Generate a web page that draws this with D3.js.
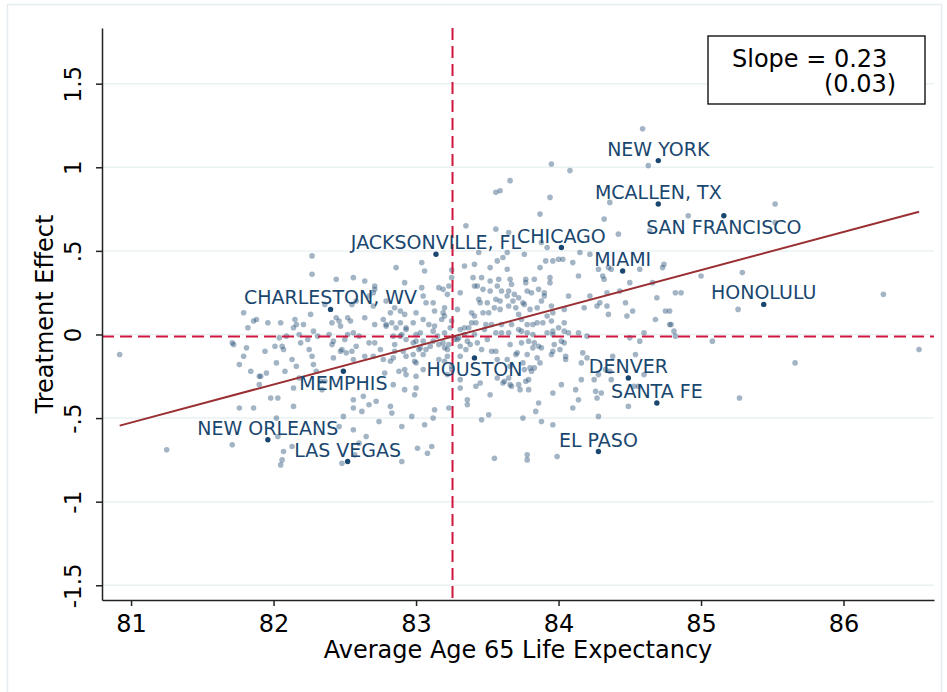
<!DOCTYPE html>
<html>
<head>
<meta charset="utf-8">
<script src="https://cdn.jsdelivr.net/npm/d3@7"></script>
<style>
  body { margin: 0; background: #fff; }
  svg { display: block; }
  text { font-family: "DejaVu Sans", sans-serif; }
</style>
</head>
<body>
<div id="chart"></div>
<script>
// commuting zones: [average age 65 life expectancy, treatment effect]
const zones = [
  [83.66,0.92],[83.56,0.85],[83.59,0.86],[83.35,0.65],[83.56,0.63],[83.65,0.61],[82.27,0.47],[83.04,0.43],
  [83.06,0.38],[82.86,0.40],[83.25,0.385],[83.25,0.34],[83.34,0.41],[83.41,0.42],[83.44,0.49],[83.52,0.40],
  [83.64,0.49],[83.61,0.46],[83.57,0.44],[82.27,0.36],[82.44,0.33],[82.56,0.34],[82.64,0.32],[82.92,0.31],
  [82.71,0.29],[82.71,0.27],[83.04,0.28],[83.16,0.28],[83.19,0.27],[83.23,0.29],[83.22,0.24],[83.31,0.25],
  [83.40,0.34],[83.46,0.34],[83.41,0.29],[83.43,0.29],[83.47,0.27],[83.52,0.26],[83.57,0.29],[83.58,0.33],
  [83.66,0.33],[83.64,0.39],[83.56,0.21],[83.64,0.23],[83.69,0.24],[83.44,0.21],[83.45,0.19],[83.39,0.13],
  [83.41,0.11],[83.47,0.13],[83.51,0.13],[83.59,0.15],[83.59,0.20],[83.29,0.15],[83.20,0.16],[83.19,0.13],
  [83.20,0.11],[83.13,0.14],[83.07,0.19],[83.05,0.23],[83.00,0.13],[82.85,0.16],[82.82,0.13],[82.89,0.14],
  [82.79,0.20],[82.70,0.17],[82.67,0.23],[82.70,0.25],[82.58,0.20],[82.55,0.18],[82.36,0.18],[82.44,0.10],
  [82.41,0.07],[82.46,0.08],[82.47,0.05],[82.52,0.10],[82.54,0.08],[82.64,0.10],[82.71,0.06],[82.77,0.09],
  [82.79,0.06],[82.89,0.07],[82.93,0.04],[82.98,0.07],[83.05,0.09],[83.09,0.06],[83.13,0.05],[82.26,0.12],
  [82.15,0.09],[82.16,0.06],[82.21,0.06],[82.14,0.04],[82.05,0.07],[81.96,0.07],[81.88,0.09],[81.86,0.08],
  [81.82,0.04],[81.79,0.13],[83.25,0.08],[83.24,0.04],[83.39,0.07],[83.37,0.04],[83.42,0.07],[83.49,0.06],
  [84.59,1.23],[84.63,1.01],[83.95,1.02],[84.08,0.98],[83.94,0.82],[84.36,0.79],[85.52,0.78],[84.91,0.71],
  [85.52,0.67],[83.87,0.72],[84.32,0.69],[84.42,0.60],[84.64,0.62],[83.92,0.52],[83.88,0.55],[83.76,0.48],
  [84.15,0.49],[84.22,0.48],[84.00,0.45],[84.03,0.45],[83.96,0.44],[83.91,0.44],[84.10,0.43],[83.87,0.40],
  [84.28,0.39],[84.35,0.40],[84.37,0.39],[84.57,0.39],[84.73,0.40],[84.74,0.42],[84.14,0.35],[83.94,0.34],
  [84.31,0.35],[84.32,0.33],[84.50,0.31],[84.66,0.31],[85.00,0.35],[85.29,0.37],[83.77,0.33],[83.83,0.33],
  [83.94,0.31],[83.77,0.31],[83.67,0.30],[83.60,0.26],[83.78,0.26],[83.81,0.25],[83.90,0.25],[83.90,0.23],
  [83.72,0.22],[84.07,0.23],[84.22,0.23],[84.34,0.25],[84.43,0.26],[84.82,0.25],[84.86,0.25],[84.69,0.22],
  [86.28,0.24],[85.26,0.15],[83.75,0.19],[83.76,0.18],[83.85,0.16],[83.88,0.20],[83.95,0.17],[83.65,0.17],
  [83.70,0.16],[84.18,0.16],[84.27,0.17],[84.29,0.19],[84.34,0.17],[84.47,0.19],[84.52,0.14],[84.35,0.12],
  [84.48,0.11],[83.92,0.11],[83.72,0.12],[84.75,0.14],[84.78,0.14],[84.68,0.09],[83.82,0.06],[83.85,0.07],
  [83.89,0.07],[83.95,0.08],[84.04,0.07],[84.00,0.04],[84.78,0.06],[84.79,0.06],
  [84.81,0.02],[84.82,-0.01],[84.60,0.01],[84.57,-0.04],[84.50,-0.02],[85.08,-0.04],[86.53,-0.09],[85.66,-0.17],
  [85.27,-0.38],[84.14,0.01],[84.20,-0.01],[83.72,0.03],[83.74,0.02],[83.78,0.01],[83.60,0.01],[83.65,0.01],
  [83.96,0.02],[84.04,0.02],[84.07,0.01],[83.96,0.00],[83.66,-0.06],[83.74,-0.05],[83.79,-0.04],[83.83,-0.05],
  [83.82,-0.08],[83.88,-0.08],[83.97,-0.06],[84.02,-0.04],[84.04,-0.05],[84.01,-0.09],[83.96,-0.10],[83.95,-0.12],
  [83.78,-0.12],[84.17,-0.11],[84.20,-0.14],[84.16,-0.17],[84.05,-0.15],[84.38,-0.13],[84.54,-0.12],[83.87,-0.17],
  [83.75,-0.17],[83.80,-0.20],[83.83,-0.20],[83.81,-0.22],[83.76,-0.21],[83.64,-0.15],[84.33,-0.21],[84.36,-0.22],
  [84.28,-0.24],[84.53,-0.31],[84.56,-0.31],[84.60,-0.24],[84.16,-0.27],[84.25,-0.27],[84.37,-0.27],[83.65,-0.26],
  [83.61,-0.29],[83.72,-0.30],[83.77,-0.28],[83.79,-0.33],[84.02,-0.30],[83.96,-0.35],[84.12,-0.33],[84.14,-0.39],
  [84.26,-0.34],[84.30,-0.35],[84.27,-0.38],[83.86,-0.41],[83.84,-0.46],[84.10,-0.44],[84.49,-0.43],[83.75,-0.50],
  [83.88,-0.52],[83.96,-0.54],[84.28,-0.49],[83.78,-0.72],[83.78,-0.75],[83.99,-0.73],
  [80.92,-0.12],[81.25,-0.69],[81.71,-0.66],[82.03,-0.61],[82.02,-0.50],[82.07,-0.70],[82.06,-0.75],[82.05,-0.78],
  [82.13,-0.67],[81.76,-0.44],[81.86,-0.44],[81.98,-0.38],[82.03,-0.38],[82.14,-0.43],[82.46,-0.55],[82.49,-0.49],
  [82.56,-0.57],[82.65,-0.61],[82.60,-0.65],[82.48,-0.77],[82.57,-0.72],[82.90,-0.76],[83.01,-0.68],[83.08,-0.71],
  [83.11,-0.67],[83.55,-0.74],[83.46,-0.51],[83.51,-0.48],[83.06,-0.54],[82.97,-0.49],[82.90,-0.55],[83.12,-0.50],
  [83.23,-0.44],[83.13,-0.45],[82.74,-0.52],[82.82,-0.43],[82.83,-0.47],[82.62,-0.46],[82.67,-0.42],[82.72,-0.40],
  [82.63,-0.37],[82.56,-0.39],[82.56,-0.44],[83.36,-0.39],[83.36,-0.42],[81.71,-0.05],[81.72,-0.06],[81.81,-0.08],
  [81.79,-0.13],[81.76,-0.18],[81.84,-0.22],[81.90,-0.25],[81.91,-0.25],[81.95,-0.23],[81.90,-0.30],[81.94,-0.10],
  [82.01,-0.07],[82.06,-0.07],[82.07,-0.09],[82.02,-0.17],[82.08,-0.22],[82.13,-0.15],[82.16,-0.19],[82.18,-0.26],
  [82.14,-0.32],[82.25,-0.09],[82.27,-0.13],[82.28,-0.18],[82.30,-0.22],[82.33,-0.28],[82.34,-0.33],[82.36,-0.28],
  [82.41,-0.06],[82.42,-0.14],[82.47,-0.10],[82.48,-0.09],[82.51,-0.11],[82.56,-0.15],[82.55,-0.10],[82.58,-0.07],
  [82.64,-0.13],[82.70,-0.13],[82.71,-0.05],[82.67,-0.05],[82.77,-0.15],[82.78,-0.23],[82.84,-0.14],[82.85,-0.10],
  [82.84,-0.30],[82.88,-0.22],[82.92,-0.21],[82.92,-0.33],[82.93,-0.13],[83.00,-0.25],[83.00,-0.32],[83.05,-0.21],
  [82.99,-0.16],[83.05,-0.12],[83.03,-0.08],[83.07,-0.09],[83.00,-0.04],[82.93,-0.03],[82.90,0.00],[82.84,-0.01],
  [82.79,0.05],[82.28,0.02],[82.24,-0.03],[82.19,-0.05],[82.09,-0.01],[82.04,-0.02],[82.18,0.00],[82.31,-0.01],
  [82.39,0.00],[82.42,-0.04],[82.50,-0.03],[82.52,0.00],[82.56,0.01],[82.60,-0.01],[83.12,-0.04],[83.16,-0.06],
  [83.20,-0.08],[83.22,-0.09],[83.23,-0.06],[83.27,-0.03],[83.29,-0.03],[83.31,-0.13],[83.38,-0.06],[83.43,-0.05],
  [83.53,-0.10],[83.56,-0.10],[83.57,-0.15],[83.66,-0.19],[83.70,-0.12],[83.66,-0.30],[83.62,-0.28],[83.57,-0.26],
  [83.45,-0.29],[83.42,-0.31],[83.31,-0.27],[83.25,-0.21],[83.25,-0.19],[83.22,-0.24],[83.20,-0.16],[83.22,-0.13],
  [83.52,0.32],[83.65,0.26],[83.86,0.27],[83.12,0.19],[82.92,0.12],[83.18,0.09],[83.50,0.19],[83.55,0.16],
  [83.68,0.20],[83.80,0.15],[83.96,0.13],[84.04,0.15],[83.78,0.06],[83.74,0.09],[83.67,0.06],[83.60,0.06],
  [83.53,0.06],[83.34,0.04],[83.48,0.03],[83.56,0.01],[83.82,0.00],[83.92,0.01],[82.83,0.07],[82.86,0.04],
  [82.93,0.03],[82.89,-0.01],[83.00,0.00],[83.05,-0.04],[83.03,0.01],[83.12,0.02],[83.15,-0.01],[83.20,0.01],
  [83.31,0.03],[83.30,-0.02],[83.34,0.00],[83.36,-0.04],[83.41,0.00],[83.50,-0.03],[82.85,-0.06],[82.98,-0.05],
  [83.02,-0.09],[83.10,-0.07],[83.19,-0.05],[83.31,-0.07],[83.35,-0.09],[83.46,-0.09],[83.71,-0.11],[83.86,-0.07],
  [84.05,-0.13],[83.85,-0.14],[82.75,-0.09],[82.91,-0.10],[82.98,-0.12],[83.16,-0.15],[82.82,-0.16],[83.00,-0.17],
  [82.93,-0.24],[82.99,-0.36],[83.31,-0.32],[83.52,-0.36],[83.67,-0.31],[83.73,-0.33],[83.79,-0.27]
];

// labelled cities
const cityNames = ["NEW YORK", "MCALLEN, TX", "SAN FRANCISCO", "JACKSONVILLE, FL", "CHICAGO", "MIAMI",
  "CHARLESTON, WV", "HONOLULU", "HOUSTON", "MEMPHIS", "DENVER", "SANTA FE", "NEW ORLEANS", "LAS VEGAS", "EL PASO"];
const cityLifeExp = [84.70, 84.70, 85.16, 83.14, 84.02, 84.45, 82.40, 85.44, 83.41, 82.49, 84.49, 84.69, 81.96, 82.52, 84.28];
const cityEffect = [1.04, 0.78, 0.71, 0.48, 0.52, 0.38, 0.15, 0.18, -0.14, -0.22, -0.26, -0.41, -0.63, -0.76, -0.70];
const cityLabelSide = ["above", "above", "below", "above", "above", "above", "above", "above", "below", "below",
  "above", "above", "above", "above", "above"];

// means (dashed reference lines) and linear fit
const meanLifeExp = 83.256;
const meanEffect = -0.012;
const fitX = [80.92, 86.53];
const fitY = [-0.545, 0.734];
const slopeText = ["Slope = 0.23", "(0.03)"];

const xTicks = [81, 82, 83, 84, 85, 86];
const yTicks = [-1.5, -1, -0.5, 0, 0.5, 1, 1.5];
const yTickLabels = ["-1.5", "-1", "-.5", "0", ".5", "1", "1.5"];

const width = 947, height = 692;
const plot = { left: 102, right: 934, top: 28, bottom: 600 };

const svg = d3.select("#chart").append("svg")
  .attr("width", width)
  .attr("height", height);

svg.append("rect")
  .attr("x", 7.5).attr("y", 4.5)
  .attr("width", 934).attr("height", 700)
  .attr("fill", "none")
  .attr("stroke", "#e4ecf0")
  .attr("stroke-width", 1.5);

const x = d3.scaleLinear().domain([80.796, 86.635]).range([plot.left, plot.right]);
const y = d3.scaleLinear().domain([-1.588, 1.833]).range([plot.bottom, plot.top]);

// gridlines
svg.append("g")
  .selectAll("line")
  .data(yTicks)
  .join("line")
  .attr("x1", plot.left).attr("x2", plot.right)
  .attr("y1", d => y(d)).attr("y2", d => y(d))
  .attr("stroke", "#eaf1f3")
  .attr("stroke-width", 1.5);

// background points
svg.append("g")
  .selectAll("circle")
  .data(zones)
  .join("circle")
  .attr("cx", d => x(d[0]))
  .attr("cy", d => y(d[1]))
  .attr("r", 2.8)
  .attr("fill", "#1a476f")
  .attr("fill-opacity", 0.4);

// mean lines
svg.append("line")
  .attr("x1", x(meanLifeExp)).attr("x2", x(meanLifeExp))
  .attr("y1", plot.top).attr("y2", plot.bottom)
  .attr("stroke", "#d0163f").attr("stroke-width", 2)
  .attr("stroke-dasharray", "12,6");

svg.append("line")
  .attr("x1", plot.left).attr("x2", plot.right)
  .attr("y1", y(meanEffect)).attr("y2", y(meanEffect))
  .attr("stroke", "#d0163f").attr("stroke-width", 2)
  .attr("stroke-dasharray", "12,6");

// fitted line
svg.append("path")
  .datum(d3.zip(fitX, fitY))
  .attr("d", d3.line().x(d => x(d[0])).y(d => y(d[1])))
  .attr("fill", "none")
  .attr("stroke", "#9a2f33")
  .attr("stroke-width", 2);

// labelled cities
const cities = cityNames.map((name, i) => ({
  name, lx: cityLifeExp[i], ef: cityEffect[i], side: cityLabelSide[i]
}));

svg.append("g")
  .selectAll("circle")
  .data(cities)
  .join("circle")
  .attr("cx", d => x(d.lx))
  .attr("cy", d => y(d.ef))
  .attr("r", 2.7)
  .attr("fill", "#1a476f");

svg.append("g")
  .selectAll("text")
  .data(cities)
  .join("text")
  .attr("x", d => x(d.lx))
  .attr("y", d => y(d.ef) + (d.side === "above" ? -5 : 18.5))
  .attr("text-anchor", "middle")
  .attr("font-size", 19)
  .attr("fill", "#1a476f")
  .text(d => d.name);

// axes
const xAxis = svg.append("g")
  .attr("transform", `translate(0,${plot.bottom})`)
  .call(d3.axisBottom(x).tickValues(xTicks).tickSizeInner(6).tickSizeOuter(0).tickFormat(d3.format("d")));
xAxis.select(".domain").attr("stroke", "#222").attr("stroke-width", 1.5);
xAxis.selectAll(".tick line").attr("stroke", "#222").attr("stroke-width", 1.5);
xAxis.selectAll(".tick text")
  .attr("y", 32).attr("dy", 0)
  .attr("font-size", 24)
  .attr("font-family", "DejaVu Sans")
  .attr("fill", "#000");

const yAxis = svg.append("g")
  .attr("transform", `translate(${plot.left},0)`)
  .call(d3.axisLeft(y).tickValues(yTicks).tickSizeInner(6).tickSizeOuter(0)
    .tickFormat((d, i) => yTickLabels[i]));
yAxis.select(".domain").attr("stroke", "#222").attr("stroke-width", 1.5);
yAxis.selectAll(".tick line").attr("stroke", "#222").attr("stroke-width", 1.5);
yAxis.selectAll(".tick text")
  .attr("transform", "rotate(-90)")
  .attr("x", 0).attr("y", -21).attr("dy", 0)
  .attr("text-anchor", "middle")
  .attr("font-size", 23)
  .attr("font-family", "DejaVu Sans")
  .attr("fill", "#000");

// axis titles
svg.append("text")
  .attr("x", (plot.left + plot.right) / 2)
  .attr("y", 658)
  .attr("text-anchor", "middle")
  .attr("font-size", 24)
  .text("Average Age 65 Life Expectancy");

svg.append("text")
  .attr("transform", `translate(53,${(plot.top + plot.bottom) / 2}) rotate(-90)`)
  .attr("text-anchor", "middle")
  .attr("font-size", 24)
  .text("Treatment Effect");

// slope box
svg.append("rect")
  .attr("x", 708).attr("y", 36)
  .attr("width", 217).attr("height", 68)
  .attr("fill", "#fff")
  .attr("stroke", "#000")
  .attr("stroke-width", 1.3);

svg.append("text")
  .attr("x", 732).attr("y", 67)
  .attr("font-size", 24)
  .text(slopeText[0]);

svg.append("text")
  .attr("x", 824).attr("y", 92)
  .attr("font-size", 24)
  .text(slopeText[1]);
</script>
</body>
</html>
